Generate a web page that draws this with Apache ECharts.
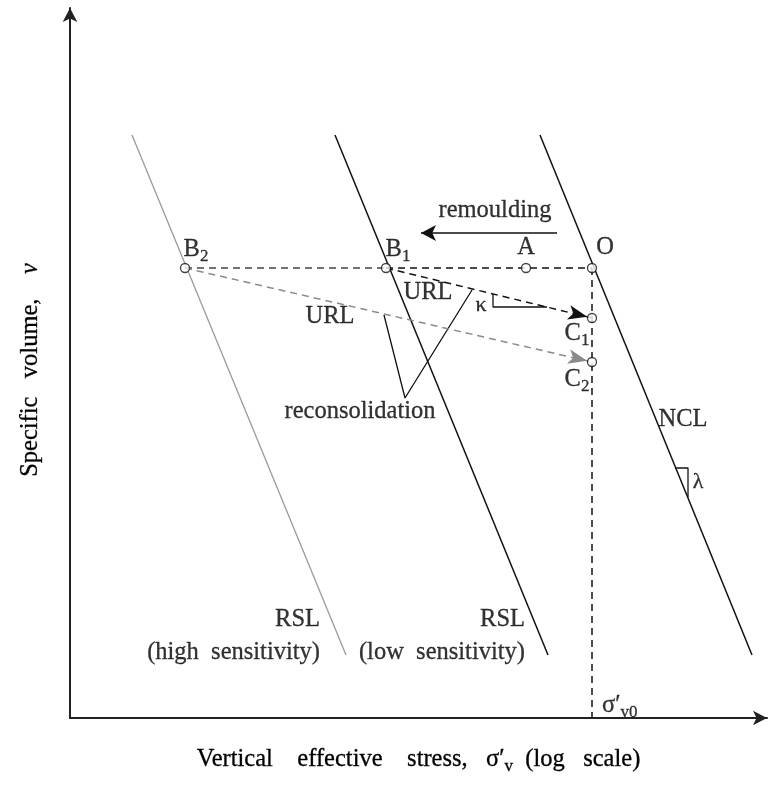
<!DOCTYPE html>
<html>
<head>
<meta charset="utf-8">
<script src="https://cdn.jsdelivr.net/npm/echarts@6/dist/echarts.min.js"></script>
<style>
  html, body { margin: 0; padding: 0; background: #fff; }
  #chart { width: 770px; height: 785px; }
</style>
</head>
<body>
<div id="chart"></div>
<script>
// Schematic v – log σ'v plane (arbitrary units: x = log-stress position, y = specific volume)
const ncl = [[470, 583], [682, 63]];
const rslLow = [[265, 583], [478, 63]];
const rslHigh = [[62, 583], [276, 63]];

const pointO = [522, 450];
const pointA = [456, 450];
const pointB1 = [316, 450];
const pointB2 = [115, 450];
const pointC1 = [522, 400];
const pointC2 = [522, 356];
const sigmaV0Foot = [522, 0];

const remouldingArrow = [[487, 485], [351, 485]];
const kappaTriangle = [[423, 424], [423, 411], [477, 411]];
const lambdaTriangle = [[605, 250], [618, 250], [618, 221]];
const reconsolidationPointer = [[314, 403], [335, 320], [402, 428]];

// Text anchors (same units as the plot)
const textAnchors = {
  remoulding: [425, 507],
  url1: [358, 425],
  url2: [260, 401],
  kappa: [411, 413],
  reconsolidation: [290, 306],
  ncl: [613, 298],
  lambda: [628, 236],
  rslHigh: [250, 82],
  rslLow: [455, 82],
  sigmaV0: [532, 12]
};

const SERIF = '"Liberation Serif", "DejaVu Serif", serif';
const INK = '#000';
const FS = 24.5;
const SUB = 17;

const textInk = { color: INK, textBorderColor: INK, textBorderWidth: 0.3 };

const rich = {
  m: Object.assign({ fontFamily: SERIF, fontSize: FS }, textInk),
  s: Object.assign({ fontFamily: SERIF, fontSize: SUB, padding: [13, 0, 0, 0] }, textInk),
  i: Object.assign({ fontFamily: SERIF, fontSize: FS, fontStyle: 'italic' }, textInk),
  g: Object.assign({ fontFamily: SERIF, fontSize: 22 }, textInk)
};

const chart = echarts.init(document.getElementById('chart'), null, { renderer: 'canvas' });

function solid(data, color, width) {
  return {
    type: 'line', data: data, showSymbol: false, symbol: 'none', silent: true,
    animation: false, z: 2,
    lineStyle: { color: color, width: width }
  };
}

function dashed(data, color) {
  return {
    type: 'line', data: data, showSymbol: false, symbol: 'none', silent: true,
    animation: false, z: 2,
    lineStyle: { color: color, width: 1.5, type: [7, 5] }
  };
}

function arrow(from, to, color, lineType, size, gap) {
  return {
    type: 'line', data: [], silent: true, animation: false, z: 3,
    markLine: {
      silent: true, animation: false,
      symbol: ['none', 'arrow'],
      symbolSize: size,
      symbolOffset: [[0, 0], [0, gap]],
      label: { show: false },
      lineStyle: { color: color, width: 1.5, type: lineType },
      itemStyle: { color: color },
      emphasis: { disabled: true },
      data: [[{ coord: from }, { coord: to }]]
    }
  };
}

function textItem(at, text, extra) {
  return {
    value: at,
    label: Object.assign({
      show: true, position: 'inside', formatter: text, rich: rich,
      fontFamily: SERIF, fontSize: FS
    }, textInk, extra || {})
  };
}

const markers = [
  { value: pointO, label: { formatter: '{m|O}', offset: [13, -20] } },
  { value: pointA, label: { formatter: '{m|A}', offset: [0, -20] } },
  { value: pointB1, label: { formatter: '{m|B}{s|1}', offset: [12, -18] } },
  { value: pointB2, label: { formatter: '{m|B}{s|2}', offset: [11, -18] } },
  { value: pointC1, label: { formatter: '{m|C}{s|1}', offset: [-15, 16] } },
  { value: pointC2, label: { formatter: '{m|C}{s|2}', offset: [-15, 18] } }
];

const texts = [
  textItem(textAnchors.remoulding, '{m|remoulding}'),
  textItem(textAnchors.url1, '{m|URL}'),
  textItem(textAnchors.url2, '{m|URL}'),
  textItem(textAnchors.kappa, '{g|κ}'),
  textItem(textAnchors.reconsolidation, '{m|reconsolidation}'),
  textItem(textAnchors.ncl, '{m|NCL}'),
  textItem(textAnchors.lambda, '{g|λ}'),
  textItem(textAnchors.rslHigh, 'RSL\n(high  sensitivity)',
    { position: 'left', distance: 0, align: 'right', lineHeight: 33 }),
  textItem(textAnchors.rslLow, 'RSL\n(low  sensitivity)',
    { position: 'left', distance: 0, align: 'right', lineHeight: 33 }),
  textItem(textAnchors.sigmaV0, '{m|σ′}{s|v0}', { position: 'right', distance: 0 })
];

const option = {
  backgroundColor: '#fff',
  animation: false,
  grid: { left: 70, right: 3, top: 8, bottom: 67 },
  xAxis: {
    type: 'value', min: 0, max: 697,
    axisLine: {
      show: true, onZero: false, symbol: ['none', 'arrow'], symbolSize: [11, 14],
      lineStyle: { color: '#222', width: 2 }
    },
    axisTick: { show: false }, axisLabel: { show: false }, splitLine: { show: false },
    name: '{m|Vertical    effective    stress,   σ′}{s|v}{m|  (log   scale)}',
    nameLocation: 'middle', nameGap: 27,
    nameTextStyle: { rich: rich }
  },
  yAxis: {
    type: 'value', min: 0, max: 710,
    axisLine: {
      show: true, onZero: false, symbol: ['none', 'arrow'], symbolSize: [11, 14],
      lineStyle: { color: '#222', width: 2 }
    },
    axisTick: { show: false }, axisLabel: { show: false }, splitLine: { show: false },
    name: '{m|Specific   volume,    }{i|v}',
    nameLocation: 'middle', nameGap: 27, nameRotate: 90,
    nameTextStyle: { rich: rich, padding: [0, 14, 0, 0] }
  },
  series: [
    solid(rslHigh, '#9a9a9a', 1.3),
    solid(rslLow, '#111', 1.5),
    solid(ncl, '#111', 1.5),
    dashed([pointB2, pointB1], '#444'),
    dashed([pointB1, pointO], '#111'),
    dashed([pointO, sigmaV0Foot], '#111'),
    solid(kappaTriangle, '#111', 1.3),
    solid(lambdaTriangle, '#111', 1.3),
    solid(reconsolidationPointer, '#111', 1.3),
    arrow(pointB1, pointC1, '#111', [7, 5], [11, 19], 5),
    arrow(pointB2, pointC2, '#8a8a8a', [7, 5], [11, 19], 5),
    arrow(remouldingArrow[0], remouldingArrow[1], '#111', 'solid', [12, 15], 0),
    {
      type: 'scatter', data: markers, symbol: 'circle', symbolSize: 9, silent: true,
      animation: false, z: 5,
      itemStyle: { color: '#fff', borderColor: '#111', borderWidth: 1.3 },
      label: { show: true, position: 'inside', rich: rich }
    },
    {
      type: 'scatter', data: texts, symbolSize: 0, silent: true, animation: false, z: 6,
      itemStyle: { color: 'transparent' }
    }
  ]
};

chart.setOption(option);
</script>
</body>
</html>
